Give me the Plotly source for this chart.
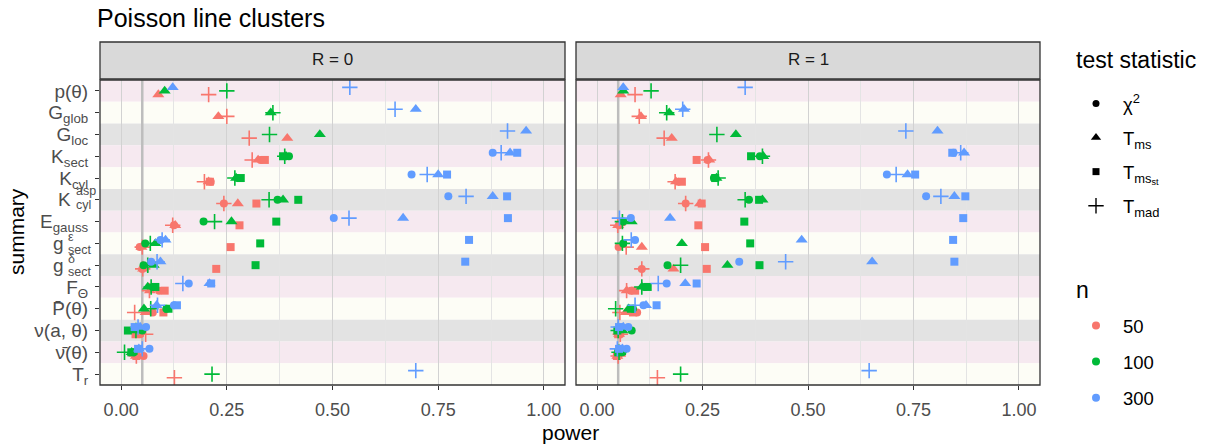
import numpy as np
import plotly.graph_objects as go

# ---- categories -----------------------------------------------------------
# tick labels; labels carrying both a subscript and a superscript are typeset
# separately (main symbol, stacked sub/superscript) from summary_stack
summaries = [
    "p(θ)", "G<sub>glob</sub>", "G<sub>loc</sub>", "K<sub>sect</sub>",
    "K<sub>cyl</sub>", "K<sub>cyl</sub><sup>asp</sup>", "E<sub>gauss</sub>",
    "g<sub>sect</sub><sup>ε</sup>", "g<sub>sect</sub><sup>δ</sup>", "F<sub>Θ</sub>",
    "P\u0304(θ)", "ν(a, θ)", "ν\u0304(θ)", "T<sub>r</sub>",
]
summary_stack = {5: ("K", "cyl", "asp"), 7: ("g", "sect", "ε"), 8: ("g", "sect", "δ")}
panels = ["R = 0", "R = 1"]
n_levels = ["50", "100", "300"]
n_colors = ["#F8766D", "#00BA38", "#619CFF"]
tests = ["χ<sup>2</sup>", "T<sub>ms</sub>", "T<sub>ms<sub>st</sub></sub>", "T<sub>mad</sub>"]
test_symbols = ["circle", "triangle-up", "square", "cross-thin"]
test_sizes = [8, 10.5, 8, 11]

# ---- power values (rows follow `summaries`) -------------------------------
# R = 0
r0_chi2_n50 = [None, None, None, 0.330, 0.212, 0.243, 0.125, 0.044, 0.050, 0.090, 0.075, 0.045, 0.053, None]
r0_chi2_n100 = [None, None, None, 0.397, 0.275, 0.370, 0.195, 0.057, 0.053, 0.075, 0.107, 0.050, 0.030, None]
r0_chi2_n300 = [None, None, None, 0.879, 0.687, 0.774, 0.503, 0.093, 0.071, 0.160, 0.125, 0.059, 0.067, None]
r0_tms_n50 = [0.088, 0.230, 0.393, 0.324, 0.207, 0.276, 0.128, 0.048, 0.052, 0.068, 0.058, 0.040, 0.035, None]
r0_tms_n100 = [0.103, 0.354, 0.470, 0.390, 0.272, 0.383, 0.261, 0.081, 0.077, 0.063, 0.054, 0.030, 0.025, None]
r0_tms_n300 = [0.122, 0.697, 0.958, 0.920, 0.750, 0.879, 0.667, 0.105, 0.093, 0.209, 0.084, 0.045, 0.042, None]
r0_tmsst_n50 = [None, None, None, 0.340, 0.210, 0.320, 0.280, 0.259, 0.225, 0.103, 0.100, 0.034, 0.036, None]
r0_tmsst_n100 = [None, None, None, 0.383, 0.283, 0.419, 0.367, 0.329, 0.318, 0.081, 0.112, 0.016, 0.024, None]
r0_tmsst_n300 = [None, None, None, 0.937, 0.771, 0.913, 0.915, 0.823, 0.814, 0.213, 0.132, 0.032, 0.040, None]
r0_tmad_n50 = [0.207, 0.250, 0.303, 0.310, 0.197, 0.243, 0.122, 0.050, 0.051, 0.067, 0.032, 0.058, 0.036, 0.126]
r0_tmad_n100 = [0.250, 0.359, 0.351, 0.387, 0.269, 0.350, 0.221, 0.069, 0.063, 0.071, 0.070, 0.035, 0.008, 0.215]
r0_tmad_n300 = [0.541, 0.648, 0.914, 0.899, 0.724, 0.816, 0.539, 0.097, 0.085, 0.146, 0.086, 0.040, 0.050, 0.697]
# R = 1
r1_chi2_n50 = [None, None, None, 0.262, 0.192, 0.210, 0.052, 0.051, 0.106, 0.080, 0.095, 0.055, 0.050, None]
r1_chi2_n100 = [None, None, None, 0.386, 0.277, 0.360, 0.062, 0.062, 0.167, 0.112, 0.085, 0.082, 0.060, None]
r1_chi2_n300 = [None, None, None, 0.845, 0.687, 0.780, 0.080, 0.090, 0.337, 0.165, 0.110, 0.074, 0.070, None]
r1_tms_n50 = [0.056, 0.104, 0.177, 0.266, 0.187, 0.244, 0.050, 0.106, 0.181, 0.070, 0.068, 0.052, 0.048, None]
r1_tms_n100 = [0.062, 0.171, 0.329, 0.394, 0.283, 0.392, 0.082, 0.201, 0.309, 0.106, 0.075, 0.060, 0.055, None]
r1_tms_n300 = [0.062, 0.206, 0.807, 0.870, 0.736, 0.847, 0.173, 0.485, 0.652, 0.209, 0.116, 0.062, 0.060, None]
r1_tmsst_n50 = [None, None, None, 0.236, 0.201, 0.248, 0.240, 0.256, 0.260, 0.090, 0.085, 0.050, 0.047, None]
r1_tmsst_n100 = [None, None, None, 0.365, 0.280, 0.384, 0.349, 0.363, 0.385, 0.120, 0.080, 0.048, 0.050, None]
r1_tmsst_n300 = [None, None, None, 0.842, 0.754, 0.873, 0.868, 0.844, 0.847, 0.236, 0.141, 0.052, 0.052, None]
r1_tmad_n50 = [0.090, 0.100, 0.159, 0.264, 0.185, 0.210, 0.049, 0.069, 0.106, 0.070, 0.054, 0.055, 0.050, 0.143]
r1_tmad_n100 = [0.128, 0.165, 0.284, 0.392, 0.287, 0.351, 0.060, 0.060, 0.198, 0.106, 0.044, 0.050, 0.052, 0.198]
r1_tmad_n300 = [0.351, 0.203, 0.732, 0.862, 0.709, 0.815, 0.053, 0.081, 0.447, 0.145, 0.090, 0.050, 0.048, 0.645]

power = {
    0: [[r0_chi2_n50, r0_chi2_n100, r0_chi2_n300],
        [r0_tms_n50, r0_tms_n100, r0_tms_n300],
        [r0_tmsst_n50, r0_tmsst_n100, r0_tmsst_n300],
        [r0_tmad_n50, r0_tmad_n100, r0_tmad_n300]],
    1: [[r1_chi2_n50, r1_chi2_n100, r1_chi2_n300],
        [r1_tms_n50, r1_tms_n100, r1_tms_n300],
        [r1_tmsst_n50, r1_tmsst_n100, r1_tmsst_n300],
        [r1_tmad_n50, r1_tmad_n100, r1_tmad_n300]],
}

alpha_level = 0.05
x_ticks = [0.0, 0.25, 0.5, 0.75, 1.0]
x_ticktext = ["0.00", "0.25", "0.50", "0.75", "1.00"]

# ---- layout geometry -------------------------------------------------------
W, H = 1215, 446
ML, MR, MT, MB = 100, 175, 80, 61
PW, PH = W - ML - MR, H - MT - MB
dom1 = [0, 465 / PW]
dom2 = [476 / PW, 1]
row_pos = np.arange(1, len(summaries) + 1)
dodge = [0.17, 0.0, -0.16]          # vertical dodge per n
stripe_colors = ["#F6E9F0", "#FDFDF6", "#E3E3E3"]
FONT = "Liberation Sans, Arial, Helvetica, sans-serif"
YTICK_SIZE = 19
SCRIPT_SIZE = 12.5
LABEL_RIGHT = 89                    # right edge of the y tick labels (px)
SUB_EM = {"cyl": 1.222, "sect": 1.834}   # advance widths (em) of stacked subscripts
TICK_GREY = "#4D4D4D"


def py(px):
    """paper y coordinate for a pixel row measured from the top"""
    return (MT + PH - px) / PH


def px_x(px):
    """paper x coordinate for a pixel column measured from the left"""
    return (px - ML) / PW


fig = go.Figure()

for p in (0, 1):
    xa = "x" if p == 0 else "x2"
    ya = "y" if p == 0 else "y2"
    # reference line at the nominal level, under the points
    fig.add_trace(go.Scatter(
        x=[alpha_level, alpha_level], y=[0.5, len(summaries) + 0.5], xaxis=xa, yaxis=ya,
        mode="lines", line=dict(color="#BDBDBD", width=2.5), showlegend=False, hoverinfo="skip",
    ))
    for ni in range(3):
        for ti in range(4):
            vals = power[p][ti][ni]
            xs = [v for v in vals if v is not None]
            ys = [r + dodge[ni] for r, v in zip(row_pos, vals) if v is not None]
            fig.add_trace(go.Scatter(
                x=xs, y=ys, xaxis=xa, yaxis=ya, mode="markers",
                marker=dict(symbol=test_symbols[ti], size=test_sizes[ti],
                            color=n_colors[ni],
                            line=dict(color=n_colors[ni], width=1.6 if ti == 3 else 0)),
                showlegend=False, hoverinfo="x",
            ))

# legend keys: shape (test statistic) and colour (n)
for ti in range(4):
    fig.add_trace(go.Scatter(
        x=[None], y=[None], mode="markers", name=tests[ti],
        marker=dict(symbol=test_symbols[ti], size=[7, 9, 7, 11][ti], color="black",
                    line=dict(color="black", width=1.4 if ti == 3 else 0)),
        legend="legend", legendgroup=f"t{ti}", showlegend=True,
    ))
for ni in range(3):
    fig.add_trace(go.Scatter(
        x=[None], y=[None], mode="markers", name=n_levels[ni],
        marker=dict(symbol="circle", size=8, color=n_colors[ni]),
        legend="legend2", legendgroup=f"n{ni}", showlegend=True,
    ))

shapes = []
annotations = []
for p, (xr, yr) in enumerate([("x", "y"), ("x2", "y2")]):
    for i, r in enumerate(row_pos):
        shapes.append(dict(type="rect", xref=f"{xr} domain", yref=yr,
                           x0=0, x1=1, y0=r - 0.5, y1=r + 0.5,
                           fillcolor=stripe_colors[i % 3], line=dict(width=0), layer="below"))
    shapes.append(dict(type="rect", xref=f"{xr} domain", yref=f"{yr} domain", x0=0, x1=1, y0=0, y1=1,
                       line=dict(color="#333333", width=1.3), fillcolor="rgba(0,0,0,0)", layer="above"))
    shapes.append(dict(type="rect", xref=f"{xr} domain", yref="paper", x0=0, x1=1,
                       y0=py(79), y1=py(42),
                       fillcolor="#D9D9D9", line=dict(color="#333333", width=1.3), layer="above"))
    annotations.append(dict(text=panels[p], xref=f"{xr} domain", yref="paper", x=0.5,
                            y=py(60), showarrow=False, xanchor="center", yanchor="middle",
                            font=dict(size=17, color="#1A1A1A", family=FONT)))

# labels with a subscript and a superscript stacked on top of each other
tick_text = list(summaries)
for i, (main, sub, sup) in summary_stack.items():
    tick_text[i] = ""
    sub_left = LABEL_RIGHT - SUB_EM[sub] * SCRIPT_SIZE
    up, down = (9, -5) if sup == "asp" else (6, -7)
    annotations += [
        dict(text=main, xref="paper", yref="y", x=px_x(sub_left - 0.5), y=row_pos[i],
             xanchor="right", yanchor="middle", showarrow=False,
             font=dict(size=YTICK_SIZE, color=TICK_GREY, family=FONT)),
        dict(text=sub, xref="paper", yref="y", x=px_x(sub_left), y=row_pos[i], yshift=down,
             xanchor="left", yanchor="middle", showarrow=False,
             font=dict(size=SCRIPT_SIZE, color=TICK_GREY, family=FONT)),
        dict(text=sup, xref="paper", yref="y", x=px_x(sub_left), y=row_pos[i], yshift=up,
             xanchor="left", yanchor="middle", showarrow=False,
             font=dict(size=SCRIPT_SIZE, color=TICK_GREY, family=FONT)),
    ]

annotations += [
    dict(text="power", xref="paper", yref="paper", x=px_x(570), y=py(432), showarrow=False,
         xanchor="center", yanchor="middle", font=dict(size=21, color="black", family=FONT)),
    dict(text="summary", xref="paper", yref="paper", x=px_x(16), y=py(232), showarrow=False,
         textangle=-90, xanchor="center", yanchor="middle",
         font=dict(size=21, color="black", family=FONT)),
    dict(text="test statistic", xref="paper", yref="paper", x=px_x(1074), y=py(60), showarrow=False,
         xanchor="left", yanchor="middle", font=dict(size=23, color="black", family=FONT)),
    dict(text="n", xref="paper", yref="paper", x=px_x(1074), y=py(290), showarrow=False,
         xanchor="left", yanchor="middle", font=dict(size=23, color="black", family=FONT)),
]

xaxis_common = dict(
    range=[-0.05, 1.05], tickvals=x_ticks, ticktext=x_ticktext, ticks="outside", ticklen=4,
    tickcolor="#333333", tickwidth=1.1, showgrid=True, gridcolor="#D2D2D2", gridwidth=1.1,
    zeroline=False, showline=False, ticklabelstandoff=4,
    tickfont=dict(size=18, color=TICK_GREY, family=FONT),
    minor=dict(dtick=0.125, tick0=0, showgrid=True, gridcolor="#E4E4E4", gridwidth=0.8, ticklen=0),
)
yaxis_common = dict(
    range=[len(summaries) + 0.5, 0.5], tickvals=list(row_pos), ticktext=tick_text,
    ticks="outside", ticklen=4, tickcolor="#333333", tickwidth=1.1,
    showgrid=False, zeroline=False, showline=False, ticklabelstandoff=3,
    tickfont=dict(size=YTICK_SIZE, color=TICK_GREY, family=FONT),
)

legend_common = dict(x=px_x(1069), xanchor="left", yanchor="top",
                     font=dict(size=18.5, family=FONT), bgcolor="rgba(0,0,0,0)",
                     itemsizing="trace", itemwidth=44)

fig.update_layout(
    width=W, height=H,
    margin=dict(l=ML, r=MR, t=MT, b=MB),
    paper_bgcolor="white", plot_bgcolor="white",
    font=dict(family=FONT, color="black"),
    title=dict(text="Poisson line clusters", x=97 / W, xanchor="left", y=1 - 18 / H,
               yanchor="middle", font=dict(size=25, color="black", family=FONT)),
    xaxis=dict(domain=dom1, anchor="y", **xaxis_common),
    xaxis2=dict(domain=dom2, anchor="y2", **xaxis_common),
    yaxis=dict(anchor="x", domain=[0, 1], **yaxis_common),
    yaxis2=dict(anchor="x2", domain=[0, 1], **{**yaxis_common, "showticklabels": False, "ticks": ""}),
    shapes=shapes,
    annotations=annotations,
    legend=dict(y=py(85), tracegroupgap=7, **legend_common),
    legend2=dict(y=py(307), tracegroupgap=9, **legend_common),
)

fig.write_html("out.html")
